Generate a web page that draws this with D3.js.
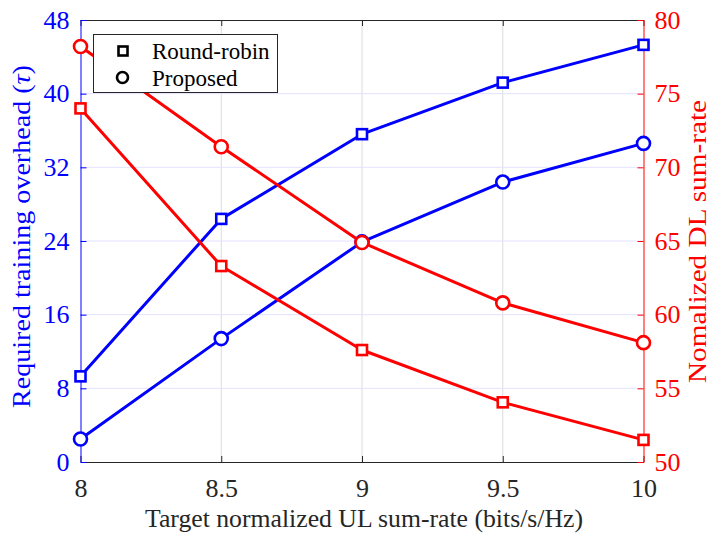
<!DOCTYPE html>
<html>
<head>
<meta charset="utf-8">
<script src="https://cdn.jsdelivr.net/npm/d3@7"></script>
<style>
  html, body { margin: 0; padding: 0; background: #fff; }
  svg { display: block; }
  svg text, svg .tick text { font-family: "Liberation Serif", serif !important; }
</style>
</head>
<body>
<svg id="chart" width="713" height="535"></svg>
<script>
// Target normalized UL sum-rate (bits/s/Hz)
const rates = [8, 8.5, 9, 9.5, 10];
// Required training overhead (left axis)
const overheadRoundRobin = [9.3, 26.4, 35.6, 41.2, 45.3];
const overheadProposed = [2.5, 13.4, 23.9, 30.4, 34.6];
// Normalized DL sum-rate (right axis)
const dlRoundRobin = [74.0, 63.3, 57.6, 54.05, 51.5];
const dlProposed = [78.2, 71.4, 64.9, 60.8, 58.1];

const xTicks = [8, 8.5, 9, 9.5, 10];
const leftTicks = [0, 8, 16, 24, 32, 40, 48];
const rightTicks = [50, 55, 60, 65, 70, 75, 80];
const legendLabels = ["Round-robin", "Proposed"];

const BLUE = "#0000ff", RED = "#ff0000", DARK = "#262626";
const FONT = "Liberation Serif, serif";
const svg = d3.select("#chart");
const m = { left: 80.5, right: 643.5, top: 20, bottom: 462 };

const x = d3.scaleLinear().domain([8, 10]).range([m.left, m.right]);
const yL = d3.scaleLinear().domain([0, 48]).range([m.bottom, m.top]);
const yR = d3.scaleLinear().domain([50, 80]).range([m.bottom, m.top]);

// grid
const grid = svg.append("g");
grid.selectAll("line.v").data(xTicks.slice(1, -1)).join("line")
  .attr("x1", d => x(d)).attr("x2", d => x(d))
  .attr("y1", m.top).attr("y2", m.bottom)
  .attr("stroke", "#dcdcdc").attr("stroke-width", 1);
grid.selectAll("line.h").data(leftTicks.slice(1, -1)).join("line")
  .attr("x1", m.left).attr("x2", m.right)
  .attr("y1", d => yL(d)).attr("y2", d => yL(d))
  .attr("stroke", "#e2e2ff").attr("stroke-width", 1);

// axes
const tickLen = 6;
function styleTicks(g, color) {
  g.attr("font-family", FONT).attr("font-size", 26);
  g.select(".domain").attr("stroke", color);
  g.selectAll(".tick line").attr("stroke", color);
  g.selectAll(".tick text").attr("fill", color)
    .attr("font-family", FONT).attr("font-size", 26);
}
const axX = svg.append("g").attr("transform", `translate(0,${m.bottom})`)
  .call(d3.axisBottom(x).tickValues(xTicks).tickFormat(d3.format("")).tickSizeInner(-tickLen).tickSizeOuter(0).tickPadding(0));
styleTicks(axX, DARK);
axX.selectAll(".tick text").attr("dy", null).attr("y", 35);

const axXTop = svg.append("g").attr("transform", `translate(0,${m.top})`)
  .call(d3.axisTop(x).tickValues(xTicks).tickFormat("").tickSizeInner(-tickLen).tickSizeOuter(0));
styleTicks(axXTop, DARK);

const axL = svg.append("g").attr("transform", `translate(${m.left},0)`)
  .call(d3.axisLeft(yL).tickValues(leftTicks).tickSizeInner(-tickLen).tickSizeOuter(0).tickPadding(11));
styleTicks(axL, BLUE);

const axR = svg.append("g").attr("transform", `translate(${m.right},0)`)
  .call(d3.axisRight(yR).tickValues(rightTicks).tickSizeInner(-tickLen).tickSizeOuter(0).tickPadding(11));
styleTicks(axR, RED);

// series
function drawSeries(vals, yScale, color, marker) {
  const pts = rates.map((r, i) => [x(r), yScale(vals[i])]);
  svg.append("path").datum(pts)
    .attr("d", d3.line())
    .attr("fill", "none").attr("stroke", color).attr("stroke-width", 3)
    .attr("stroke-linejoin", "round");
  const g = svg.append("g");
  if (marker === "square") {
    g.selectAll("rect").data(pts).join("rect")
      .attr("x", d => d[0] - 5).attr("y", d => d[1] - 5)
      .attr("width", 10).attr("height", 10)
      .attr("fill", "#fff").attr("stroke", color).attr("stroke-width", 2.6);
  } else {
    g.selectAll("circle").data(pts).join("circle")
      .attr("cx", d => d[0]).attr("cy", d => d[1]).attr("r", 6.5)
      .attr("fill", "#fff").attr("stroke", color).attr("stroke-width", 2.6);
  }
}
drawSeries(overheadRoundRobin, yL, BLUE, "square");
drawSeries(overheadProposed, yL, BLUE, "circle");
drawSeries(dlRoundRobin, yR, RED, "square");
drawSeries(dlProposed, yR, RED, "circle");

// legend
const lg = svg.append("g");
lg.append("rect").attr("x", 93.5).attr("y", 34.5).attr("width", 184).attr("height", 58)
  .attr("fill", "#fff").attr("stroke", DARK).attr("stroke-width", 1);
lg.append("rect").attr("x", 118.5).attr("y", 46.5).attr("width", 9).attr("height", 9)
  .attr("fill", "none").attr("stroke", "#000").attr("stroke-width", 2.6);
lg.append("circle").attr("cx", 122.5).attr("cy", 77.5).attr("r", 5.5)
  .attr("fill", "none").attr("stroke", "#000").attr("stroke-width", 2.6);
lg.selectAll("text").data(legendLabels).join("text")
  .attr("x", 152).attr("y", (d, i) => 58.5 + i * 27)
  .attr("font-size", 23).attr("fill", "#000").text(d => d);

// axis titles
svg.append("text").attr("x", 364).attr("y", 527)
  .attr("text-anchor", "middle").attr("font-size", 26).attr("fill", DARK)
  .attr("textLength", 438).attr("lengthAdjust", "spacingAndGlyphs")
  .text("Target normalized UL sum-rate (bits/s/Hz)");

const lt = svg.append("text").attr("transform", "translate(30,236.5) rotate(-90)")
  .attr("text-anchor", "middle").attr("font-size", 26).attr("fill", BLUE)
  .attr("textLength", 343).attr("lengthAdjust", "spacingAndGlyphs");
lt.append("tspan").text("Required training overhead (");
lt.append("tspan").attr("font-style", "italic").text("τ");
lt.append("tspan").text(")");

svg.append("text").attr("transform", "translate(706,241.5) rotate(-90)")
  .attr("text-anchor", "middle").attr("font-size", 25).attr("fill", RED)
  .attr("textLength", 283).attr("lengthAdjust", "spacingAndGlyphs")
  .text("Nomalized DL sum-rate");
</script>
</body>
</html>
